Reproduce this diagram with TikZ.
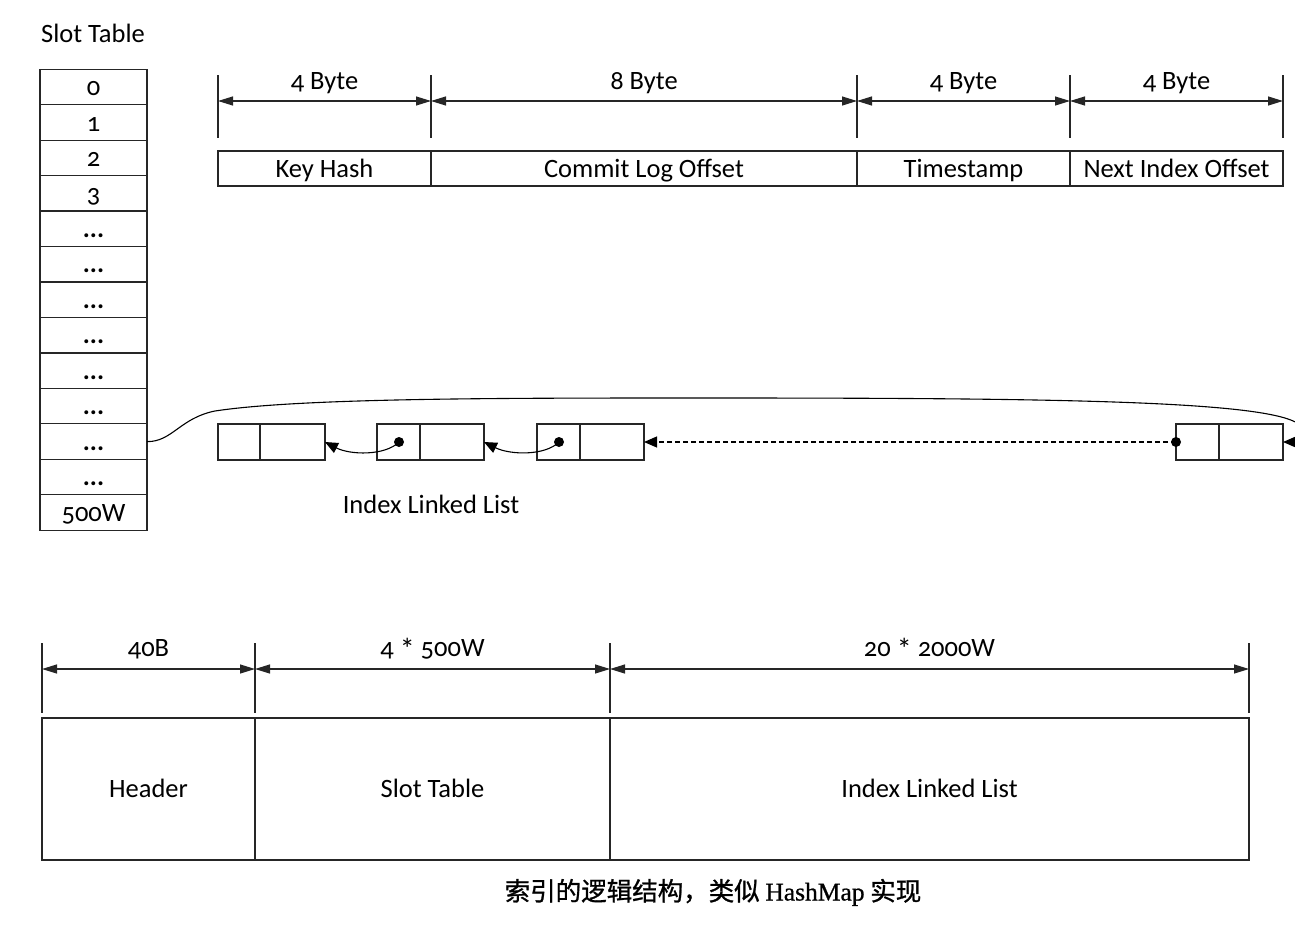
\documentclass[tikz,border=0pt]{standalone}
\usepackage{fontspec}
\setmainfont{Carlito}[Numbers=OldStyle]
\newfontfamily\cjk[FakeBold=1]{Noto Sans CJK SC}
\newfontfamily\serifl[FakeBold=0.8]{Liberation Serif}
\usetikzlibrary{arrows.meta}
\newcommand{\mystar}{\raisebox{-0.12em}{\fontsize{30}{30}\selectfont *}}

\begin{document}
\begin{tikzpicture}[x=1pt,y=-1pt,
  font=\fontsize{26.5}{30}\selectfont,
  every node/.style={inner sep=0pt, outer sep=0pt, text height=22pt, text depth=5pt},
  cell/.style={draw=black!85, line width=1.2pt, minimum height=35.5pt, minimum width=107pt},
  field/.style={draw=black!85, line width=1.2pt, minimum height=35pt},
  lcell/.style={draw=black!85, line width=1.2pt, minimum height=36pt},
  tick/.style={line width=1.2pt, black!85},
  dimarr/.style={line width=1.2pt, black!85, {Triangle[length=15pt,width=9pt]}-{Triangle[length=15pt,width=9pt]}},
  linkarr/.style={line width=1.1pt, -{Triangle[length=13pt,width=11pt]}},
  dot/.style={circle, fill=black, minimum size=10pt, text height=0pt, text depth=0pt},
  lbl/.style={text=black}
]
\useasboundingbox (0,0) rectangle (1295,926);

% ---- Slot table
\node[lbl] (sttitle) at (93,34) {Slot Table};
\node[cell] (s0) at (93.5,87) {0};
\node[cell] (s1) at (93.5,122.5) {1};
\node[cell] (s2) at (93.5,158) {2};
\node[cell] (s3) at (93.5,193.5) {3};
\foreach \i in {4,5,6,7,8,9,10,11}{
  \node[cell] (s\i) at (93.5,{87+35.46*\i}) {\textbf{...}};
}
\node[cell] (s12) at (93.5,512.5) {500W};

% ---- Record layout
\node[field, minimum width=213pt] (kh) at (324.5,168.5) {Key Hash};
\node[field, minimum width=426pt] (clo) at (644,168.5) {Commit Log Offset};
\node[field, minimum width=213pt] (ts) at (963.5,168.5) {Timestamp};
\node[field, minimum width=213pt] (nio) at (1176.5,168.5) {Next Index Offset};

\foreach \n/\x in {0/218,1/431,2/857,3/1070,4/1283}{
  \coordinate (ta\n) at (\x,75);
  \coordinate (tb\n) at (\x,138);
  \coordinate (tm\n) at (\x,101);
  \draw[tick] (ta\n) -- (tb\n);
}
\draw[dimarr] (tm0) -- (tm1);
\draw[dimarr] (tm1) -- (tm2);
\draw[dimarr] (tm2) -- (tm3);
\draw[dimarr] (tm3) -- (tm4);
\node[lbl] (b1) at (324.5,81) {4 Byte};
\node[lbl] (b2) at (644,81) {8 Byte};
\node[lbl] (b3) at (963.5,81) {4 Byte};
\node[lbl] (b4) at (1176.5,81) {4 Byte};

% ---- Linked list
\node[lcell, minimum width=42pt] (n1a) at (239,442) {};
\node[lcell, minimum width=65pt] (n1b) at (292.5,442) {};
\node[lcell, minimum width=43pt] (n2a) at (398.5,442) {};
\node[lcell, minimum width=64pt] (n2b) at (452,442) {};
\node[lcell, minimum width=43pt] (n3a) at (558.5,442) {};
\node[lcell, minimum width=64pt] (n3b) at (612,442) {};
\node[lcell, minimum width=43pt] (n4a) at (1197.5,442) {};
\node[lcell, minimum width=64pt] (n4b) at (1251,442) {};
\node[dot] (d2) at (399,442) {};
\node[dot] (d3) at (559,442) {};
\node[dot] (d4) at (1176,442) {};

\draw[linkarr] (d2.center) .. controls (385,456) and (350,455) .. (n1b.east);
\draw[linkarr] (d3.center) .. controls (545,456) and (510,455) .. (n2b.east);
\draw[linkarr, dashed, dash pattern=on 5pt off 3pt] (d4.center) -- (n3b.east);
\draw[linkarr] (s10.east) .. controls (172,442) and (180,418) .. (215,411)
   .. controls (300,398) and (500,398) .. (700,398)
   .. controls (1050,398) and (1290,400) .. (1302,428)
   .. controls (1304,436) and (1300,442) .. (n4b.east);

\node[lbl] (ill) at (431,505) {Index Linked List};

% ---- File layout
\node[field, minimum width=213pt, minimum height=142pt] (hd) at (148.5,789) {Header};
\node[field, minimum width=355pt, minimum height=142pt] (stb) at (432.5,789) {Slot Table};
\node[field, minimum width=639pt, minimum height=142pt] (ilb) at (929.5,789) {Index Linked List};

\foreach \n/\x in {0/42,1/255,2/610,3/1249}{
  \coordinate (ua\n) at (\x,643);
  \coordinate (ub\n) at (\x,713);
  \coordinate (um\n) at (\x,669);
  \draw[tick] (ua\n) -- (ub\n);
}
\draw[dimarr] (um0) -- (um1);
\draw[dimarr] (um1) -- (um2);
\draw[dimarr] (um2) -- (um3);
\node[lbl] (c1) at (148.5,648) {40B};
\node[lbl] (c2) at (432.5,648) {4 \mystar\ 500W};
\node[lbl] (c3) at (929.5,648) {20 \mystar\ 2000W};

% ---- caption
\node[lbl] (cap) at (713,892) {\fontsize{25.5}{30}\selectfont\cjk 索引的逻辑结构，类似 {\serifl HashMap} 实现};
\end{tikzpicture}
\end{document}
